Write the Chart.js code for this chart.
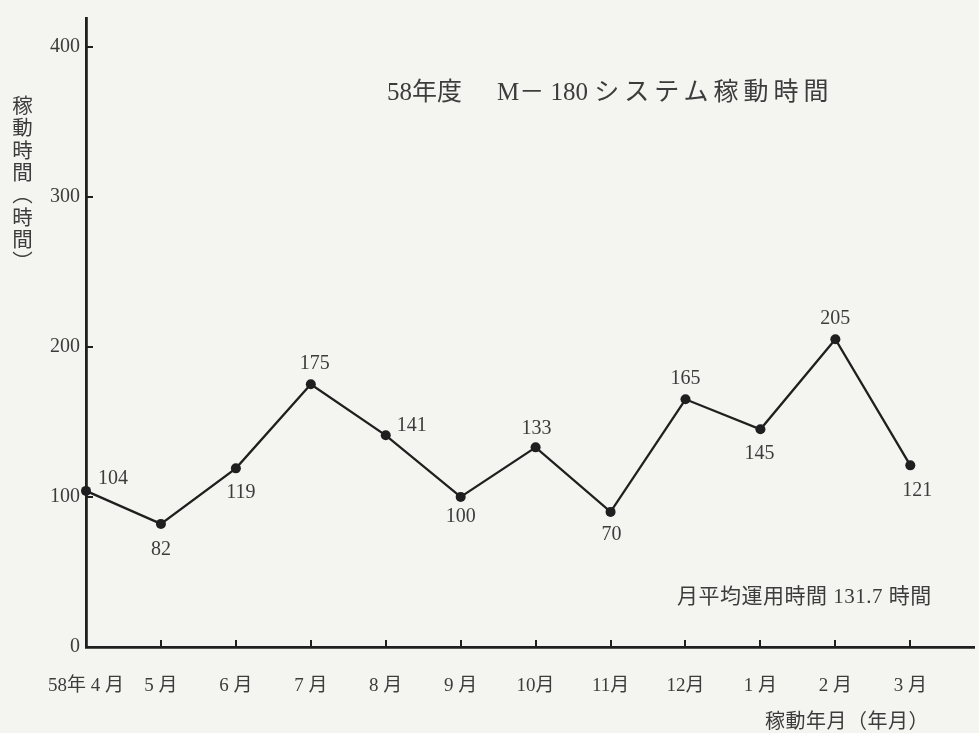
<!DOCTYPE html>
<html lang="ja">
<head>
<meta charset="utf-8">
<script src="https://cdn.jsdelivr.net/npm/chart.js@4.4.1/dist/chart.umd.min.js"></script>
<style>
  html, body { margin: 0; padding: 0; background: #f4f4f1; }
  #wrap { position: relative; width: 979px; height: 733px; overflow: hidden;
    font-family: "Liberation Serif", "Noto Sans CJK JP", serif; color: #3c3c3c; }
  #wrap canvas { position: absolute; left: 0; top: 0; }
  .txt { position: absolute; white-space: nowrap; line-height: 1; }
  #title { left: 387px; top: 79px; font-size: 25px; }
  #title .m { margin-left: 10px; }
  #title .sys { letter-spacing: 5px; }
  #note { left: 677px; top: 586px; font-size: 21px; letter-spacing: 0.5px; }
  #xtitle { left: 765px; top: 711px; font-size: 20px; letter-spacing: 0.5px; }
  #ytitle { left: 10px; top: 95px; font-size: 20.5px; letter-spacing: 1.8px; writing-mode: vertical-rl; }
</style>
</head>
<body>
<div id="wrap">
  <canvas id="chart" width="979" height="733"></canvas>
  <div class="txt" id="title">58年度　<span class="m">M－ 180</span> <span class="sys">システム稼動時間</span></div>
  <div class="txt" id="note">月平均運用時間 131.7 時間</div>
  <div class="txt" id="xtitle">稼動年月（年月）</div>
  <div class="txt" id="ytitle">稼動時間（時間）</div>
</div>
<script>
// months on the x axis
const months = ["58年 4 月", "5 月", "6 月", "7 月", "8 月", "9 月", "10月", "11月", "12月", "1 月", "2 月", "3 月"];
// operating hours per month (Nov is plotted at ~90, which matches the 131.7 average)
const hours = [104, 82, 119, 175, 141, 100, 133, 90, 165, 145, 205, 121];
// the numbers printed beside each point, as on the original
const printedLabels = ["104", "82", "119", "175", "141", "100", "133", "70", "165", "145", "205", "121"];
const yTicks = [0, 100, 200, 300, 400];

// where each printed number sits relative to its point [dx, dy, align]
const labelPlace = [
  [12, -12, "left"], [0, 26, "center"], [5, 24, "center"], [4, -21, "center"],
  [11, -10, "left"], [0, 20, "center"], [1, -19, "center"], [1, 23, "center"],
  [0, -21, "center"], [-1, 24, "center"], [0, -21, "center"], [7, 25, "center"],
];

const ink = "#1f1f1f";
const textColor = "#3c3c3c";
const fontFamily = "'Liberation Serif', 'Noto Sans CJK JP', serif";

// small inner tick marks and the printed values
const marksPlugin = {
  id: "marks",
  afterDatasetsDraw(chart) {
    const { ctx, scales: { x, y } } = chart;
    ctx.save();
    ctx.strokeStyle = ink;
    ctx.lineWidth = 2;
    yTicks.forEach((v) => {
      if (v === 0) return;
      const py = Math.round(y.getPixelForValue(v));
      ctx.beginPath();
      ctx.moveTo(x.left, py);
      ctx.lineTo(x.left + 7, py);
      ctx.stroke();
    });
    months.forEach((m, i) => {
      if (i === 0) return;
      const px = Math.round(x.getPixelForValue(i));
      ctx.beginPath();
      ctx.moveTo(px, y.bottom);
      ctx.lineTo(px, y.bottom - 7);
      ctx.stroke();
    });

    const meta = chart.getDatasetMeta(0);
    ctx.fillStyle = textColor;
    ctx.font = "20px " + fontFamily;
    ctx.textBaseline = "middle";
    meta.data.forEach((pt, i) => {
      const [dx, dy, align] = labelPlace[i];
      ctx.textAlign = align;
      ctx.fillText(printedLabels[i], pt.x + dx, pt.y + dy);
    });
    ctx.restore();
  },
};

new Chart(document.getElementById("chart"), {
  type: "line",
  data: {
    datasets: [
      {
        data: hours.map((v, i) => ({ x: i, y: v })),
        borderColor: ink,
        backgroundColor: ink,
        borderWidth: 2.3,
        pointRadius: 5,
        pointBackgroundColor: ink,
        pointBorderWidth: 0,
        tension: 0,
        clip: false,
      },
    ],
  },
  options: {
    responsive: false,
    animation: false,
    layout: { padding: { top: 10, left: 0, right: 0, bottom: 0 } },
    plugins: { legend: { display: false }, tooltip: { enabled: false } },
    scales: {
      x: {
        type: "linear",
        min: 0,
        max: 11.85,
        grid: { display: false, drawTicks: false },
        border: { display: true, color: ink, width: 2.8 },
        afterFit: (s) => { s.height = 86; },
        ticks: {
          stepSize: 1,
          includeBounds: false,
          autoSkip: false,
          maxRotation: 0,
          padding: 28,
          color: textColor,
          font: { family: fontFamily, size: 19 },
          callback: (v) => (Number.isInteger(v) && months[v] !== undefined ? months[v] : ""),
        },
      },
      y: {
        min: 0,
        max: 419,
        grid: { display: false, drawTicks: false },
        border: { display: true, color: ink, width: 2.8 },
        afterFit: (s) => { s.width = 86; },
        afterBuildTicks: (s) => { s.ticks = yTicks.map((v) => ({ value: v })); },
        ticks: {
          padding: 6,
          color: textColor,
          font: { family: fontFamily, size: 20 },
        },
      },
    },
  },
  plugins: [marksPlugin],
});
</script>
</body>
</html>
